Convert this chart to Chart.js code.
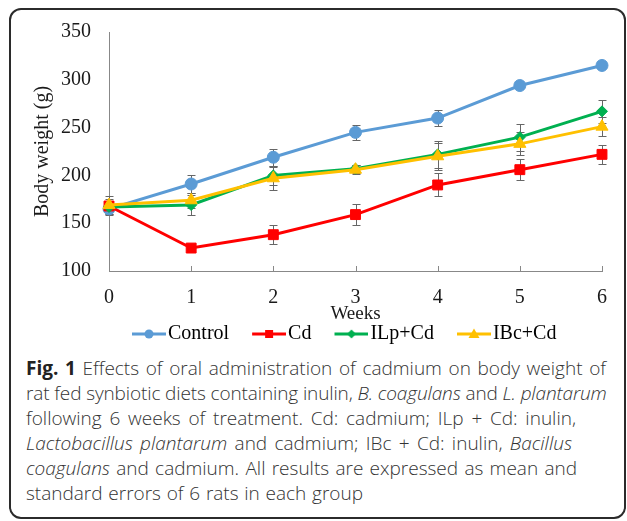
<!DOCTYPE html>
<html>
<head>
<meta charset="utf-8">
<script src="https://cdn.jsdelivr.net/npm/chart.js@4.4.0/dist/chart.umd.min.js"></script>
<style>
  body { margin: 0; background: #fff; width: 627px; height: 521px; overflow: hidden; position: relative; }
  .frame { position: absolute; left: 9px; top: 8px; width: 617px; height: 511px; border: 2px solid #2b2b2b; border-radius: 12px; box-sizing: border-box; }
  #chart { position: absolute; left: 0; top: 0; }
  .caption { position: absolute; left: 26px; top: 356px; width: 590px; font-family: 'Open Sans', sans-serif; font-size: 19px; font-weight: 300; line-height: 25px; color: #333; }
  .caption div { text-align: justify; text-align-last: justify; white-space: normal; }
  .caption div.free { text-align: left; text-align-last: left; white-space: nowrap; letter-spacing: -0.12px; }
  .caption b { font-weight: 700; color: #222; }
</style>
</head>
<body>
<div class="frame"></div>
<canvas id="chart" width="627" height="354"></canvas>
<div class="caption">
  <div style="width:580px"><b>Fig. 1</b> Effects of oral administration of cadmium on body weight of</div>
  <div class="free">rat fed synbiotic diets containing inulin, <i>B. coagulans</i> and <i>L. plantarum</i></div>
  <div style="width:550px">following 6 weeks of treatment. Cd: cadmium; ILp + Cd: inulin,</div>
  <div style="width:546px"><i>Lactobacillus plantarum</i> and cadmium; IBc + Cd: inulin, <i>Bacillus</i></div>
  <div style="width:551px"><i>coagulans</i> and cadmium. All results are expressed as mean and</div>
  <div style="width:337px">standard errors of 6 rats in each group</div>
</div>
<script>
// data (body weight in g)
const weeks = ['0', '1', '2', '3', '4', '5', '6'];
const control = [165, 191, 219, 245, 260, 294, 315];
const cd = [168, 124, 138, 159, 190, 206, 222];
const ilpCd = [167, 169, 200, 207, 222, 240, 267];
const ibcCd = [169, 174, 197, 206, 220, 233, 251];

// standard errors
const controlErr = [5, 9, 9, 8, 8, 2, 2];
const cdErr = [5, 2, 10, 11, 12, 11, 10];
const ilpCdErr = [8, 10, 10, 4, 14, 14, 12];
const ibcCdErr = [9, 8, 12, 5, 14, 12, 10];

const yTicks = [100, 150, 200, 250, 300, 350];

const serif = "'Liberation Serif', 'Times New Roman', serif";
const errors = [controlErr, cdErr, ilpCdErr, ibcCdErr];

// small line+marker icon for the legend
function legendIcon(color, shape) {
  const c = document.createElement('canvas');
  c.width = 65; c.height = 14;
  const g = c.getContext('2d');
  g.strokeStyle = color; g.fillStyle = color; g.lineWidth = 3;
  g.beginPath(); g.moveTo(31, 7); g.lineTo(65, 7); g.stroke();
  const cx = 48, cy = 7;
  g.beginPath();
  if (shape === 'circle') {
    g.arc(cx, cy, 4.5, 0, Math.PI * 2);
  } else if (shape === 'rect') {
    g.rect(cx - 4, cy - 4, 8, 8);
  } else if (shape === 'diamond') {
    g.moveTo(cx, cy - 4.5); g.lineTo(cx + 4.5, cy); g.lineTo(cx, cy + 4.5); g.lineTo(cx - 4.5, cy);
  } else {
    g.moveTo(cx, cy - 5.5); g.lineTo(cx + 5.5, cy + 4); g.lineTo(cx - 5.5, cy + 4);
  }
  g.closePath(); g.fill();
  return c;
}

const icons = [
  legendIcon('#5b9bd5', 'circle'),
  legendIcon('#ff0000', 'rect'),
  legendIcon('#00b050', 'diamond'),
  legendIcon('#ffc000', 'triangle')
];

// error bars + inward tick marks on the x axis
const errorBars = {
  id: 'errorBars',
  beforeDatasetsDraw(chart) {
    const { ctx, scales: { x, y } } = chart;
    ctx.save();
    ctx.strokeStyle = '#888';
    ctx.lineWidth = 1;
    weeks.forEach((w, i) => {
      const px = Math.round(x.getPixelForValue(i)) + 0.5;
      ctx.beginPath(); ctx.moveTo(px, y.bottom); ctx.lineTo(px, y.bottom - 5); ctx.stroke();
    });
    ctx.strokeStyle = '#666';
    chart.data.datasets.forEach((ds, di) => {
      ds.data.forEach((v, i) => {
        const e = errors[di][i];
        const px = Math.round(x.getPixelForValue(i)) + 0.5;
        const t = Math.round(y.getPixelForValue(v + e)) + 0.5;
        const b = Math.round(y.getPixelForValue(v - e)) + 0.5;
        ctx.beginPath();
        ctx.moveTo(px, t); ctx.lineTo(px, b);
        ctx.moveTo(px - 4, t); ctx.lineTo(px + 4, t);
        ctx.moveTo(px - 4, b); ctx.lineTo(px + 4, b);
        ctx.stroke();
      });
    });
    ctx.restore();
  }
};

function series(label, data, color, style, radius, order) {
  return {
    label, data, order,
    borderColor: color, backgroundColor: color,
    borderWidth: 3, tension: 0, fill: false,
    pointStyle: style, pointRadius: radius,
    pointBackgroundColor: color, pointBorderColor: color, pointBorderWidth: 1
  };
}

new Chart(document.getElementById('chart'), {
  type: 'line',
  data: {
    labels: weeks,
    datasets: [
      series('Control', control, '#5b9bd5', 'circle', 6, 3),
      series('Cd', cd, '#ff0000', 'rect', 7, 2),
      series('ILp+Cd', ilpCd, '#00b050', 'rectRot', 5.5, 1),
      series('IBc+Cd', ibcCd, '#ffc000', 'triangle', 7, 0)
    ]
  },
  options: {
    responsive: false,
    animation: false,
    events: [],
    layout: { padding: { left: 0, right: 25, top: 32, bottom: 0 } },
    plugins: {
      tooltip: { enabled: false },
      legend: {
        position: 'bottom',
        align: 'start',
        fullSize: false,
        labels: {
          usePointStyle: true,
          pointStyleWidth: 49,
          padding: 0,
          color: '#1a1a1a',
          font: { family: serif, size: 20 },
          generateLabels: chart => chart.data.datasets.map((ds, i) => ({
            text: ds.label,
            pointStyle: icons[i],
            fillStyle: ds.borderColor,
            strokeStyle: ds.borderColor,
            lineWidth: 0,
            hidden: false,
            datasetIndex: i
          }))
        }
      }
    },
    scales: {
      x: {
        type: 'category',
        offset: false,
        grid: { display: false, drawTicks: false },
        border: { color: '#888', width: 1 },
        ticks: { color: '#1a1a1a', padding: 15, font: { family: serif, size: 20 } },
        title: { display: true, text: 'Weeks', color: '#1a1a1a', padding: 0, font: { family: serif, size: 19, lineHeight: 1 } },
        afterFit: s => { s.height = 53; }
      },
      y: {
        min: 100,
        max: 350,
        afterBuildTicks: s => { s.ticks = yTicks.map(v => ({ value: v })); },
        grid: { display: false, drawTicks: false },
        border: { color: '#888', width: 1 },
        ticks: { color: '#1a1a1a', padding: 18, font: { family: serif, size: 20 } },
        title: { display: true, text: 'Body weight (g)', color: '#1a1a1a', padding: { top: 31, bottom: 0 }, font: { family: serif, size: 20 } },
        afterFit: s => { s.width = 109; }
      }
    }
  },
  plugins: [errorBars]
});
</script>
</body>
</html>
